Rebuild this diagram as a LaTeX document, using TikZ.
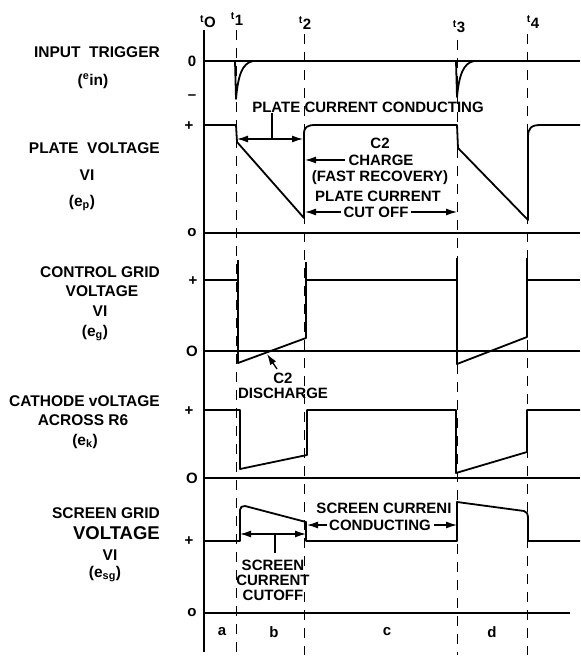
\documentclass[tikz,border=0pt]{standalone}
\usepackage{fontspec}
\setmainfont{Liberation Sans}
\usetikzlibrary{arrows.meta}
\begin{document}
\begin{tikzpicture}[x=1pt,y=-1pt,
  wave/.style={line width=1.8pt, line join=round},
  zline/.style={line width=1.3pt},
  axisline/.style={line width=1.2pt},
  tline/.style={line width=0.8pt, dash pattern=on 10pt off 8pt},
  lab/.style={font=\bfseries\fontsize{15.5}{17}\selectfont, inner sep=0pt},
  biglab/.style={font=\bfseries\fontsize{18.5}{20}\selectfont, inner sep=0pt},
  ann/.style={font=\bfseries\fontsize{15}{16}\selectfont, inner sep=0pt},
  lvl/.style={font=\bfseries\fontsize{15}{16}\selectfont, inner sep=0pt},
  tlab/.style={font=\bfseries\fontsize{15}{16}\selectfont, inner sep=0pt},
  tick/.style={line width=1.2pt},
  arr/.style={line width=1.3pt, -{Latex[length=11pt,width=7pt]}},
  darr/.style={line width=1.3pt, {Latex[length=11pt,width=7pt]}-{Latex[length=11pt,width=7pt]}},
]
\useasboundingbox (0,0) rectangle (580,660);
\fill[white] (0,0) rectangle (580,660);

% ---------- axis and time lines ----------
\coordinate (axtop) at (204,30);
\coordinate (axbot) at (204,652);
\draw[axisline] (axtop) -- (axbot);

\coordinate (t1top) at (236,30);  \coordinate (t1bot) at (236,655);
\coordinate (t2top) at (304,34);  \coordinate (t2bot) at (304,655);
\coordinate (t3top) at (457,40);  \coordinate (t3bot) at (457,655);
\coordinate (t4top) at (527,34);  \coordinate (t4bot) at (527,655);
\draw[tline] (t1top) -- (t1bot);
\draw[tline] (t2top) -- (t2bot);
\draw[tline] (t3top) -- (t3bot);
\draw[tline] (t4top) -- (t4bot);

\node[tlab] (lt0) at (208,22) {\textsuperscript{t}O};
\node[tlab] (lt1) at (237,19) {\textsuperscript{t}1};
\node[tlab] (lt2) at (305,23) {\textsuperscript{t}2};
\node[tlab] (lt3) at (459,27) {\textsuperscript{t}3};
\node[tlab] (lt4) at (533,22) {\textsuperscript{t}4};

% ---------- zero lines ----------
\coordinate (z1a) at (204,233); \coordinate (z1b) at (580,233);
\coordinate (z2a) at (204,351); \coordinate (z2b) at (580,351);
\coordinate (z3a) at (204,478); \coordinate (z3b) at (580,478);
\coordinate (z4a) at (204,613); \coordinate (z4b) at (570,613);
\draw[zline] (z1a) -- (z1b);
\draw[zline] (z2a) -- (z2b);
\draw[zline] (z3a) -- (z3b);
\draw[zline] (z4a) -- (z4b);

% ---------- waveforms ----------
% input trigger
\draw[wave] (204,61) -- (580,61);
\draw[wave] (235,61) -- (236,99) .. controls (238,76) and (242,63) .. (253,61);
\draw[wave] (456,61) -- (457,97) .. controls (459,76) and (463,63) .. (474,61);

% plate voltage
\draw[wave] (204,125) -- (236,125) -- (237,142) -- (304,218) -- (304,134)
  .. controls (304,127) and (307,125) .. (316,125) -- (457,125) -- (458,148)
  -- (528,220) -- (528,137) .. controls (528,128) and (531,125) .. (541,125) -- (580,125);

% control grid
\draw[wave] (204,280) -- (238,280);
\draw[wave] (238,260) -- (238,363) -- (306,338) -- (306,262);
\draw[wave] (306,280) -- (457,280);
\draw[wave] (457,258) -- (457,364) -- (527,337) -- (527,258);
\draw[wave] (527,280) -- (580,280);

% cathode
\draw[wave] (204,410) -- (240,410) -- (240,469) -- (307,455) -- (307,410)
  -- (456,410) -- (456,473) -- (527,452) -- (527,410) -- (580,410);

% screen grid
\draw[wave] (204,541) -- (240,541) -- (240,510) .. controls (240,507) and (242,506) .. (245,506)
  -- (306,522) -- (306,541) -- (457,541) -- (457,502) -- (524,511)
  .. controls (527,512) and (528,514) .. (528,517) -- (528,541) -- (580,541);

% ---------- level marks ----------
\node[lvl] (m1) at (192,61) {0};
\node[lvl] (m2) at (192,97) {--};
\node[lvl] (m3) at (189,126) {+};
\node[lvl] (m4) at (192,233) {o};
\node[lvl] (m5) at (193,281) {+};
\node[lvl] (m6) at (192,351) {O};
\node[lvl] (m7) at (189,411) {+};
\node[lvl] (m8) at (192,478) {O};
\node[lvl] (m9) at (189,541) {+};
\node[lvl] (m10) at (192,613) {o};

% ---------- left labels ----------
\node[lab, anchor=east] (in1) at (160,52) {INPUT\ \ TRIGGER};
\node[lab] (in2) at (93,81) {(\textsuperscript{e}in)};
\node[lab, anchor=east] (pv1) at (160,148) {PLATE\ \ VOLTAGE};
\node[lab] (pv2) at (87,175) {VI};
\node[lab] (pv3) at (82,203) {(e\textsubscript{p})};
\node[lab, anchor=east] (cg1) at (160,272) {CONTROL GRID};
\node[lab] (cg2) at (102,291) {VOLTAGE};
\node[lab] (cg3) at (100,311) {VI};
\node[lab] (cg4) at (95,333) {(e\textsubscript{g})};
\node[lab, anchor=east] (ck1) at (160,401) {CATHODE vOLTAGE};
\node[lab] (ck2) at (83,420) {ACROSS R6};
\node[lab] (ck3) at (85,441) {(e\textsubscript{k})};
\node[lab, anchor=east] (sg1) at (160,513) {SCREEN GRID};
\node[biglab, anchor=east] (sg2) at (160,533) {VOLTAGE};
\node[lab] (sg3) at (110,555) {VI};
\node[lab] (sg4) at (105,574) {(e\textsubscript{sg})};

% ---------- plate annotations ----------
\node[ann] (pcc) at (368,107) {PLATE CURRENT CONDUCTING};
\coordinate (pccA) at (237,139);
\coordinate (pccB) at (303,139);
\coordinate (pccT) at (272,113);
\coordinate (pccM) at (272,139);
\draw[darr] (pccA) -- (pccB);
\draw[tick] (pccT) -- (pccM);

\node[ann] (c2a) at (380,143) {C2};
\node[ann] (c2b) at (381,160) {CHARGE};
\node[ann] (c2c) at (380,178) {(FAST RECOVERY)};
\node[ann] (c2d) at (378,196) {PLATE CURRENT};
\node[ann] (c2e) at (376,212) {CUT OFF};
\coordinate (chg) at (305,160);
\coordinate (cutL) at (305,212);
\coordinate (cutR) at (457,212);
\draw[arr] (c2b.west) ++(-3,0) -- (chg);
\draw[arr] (c2e.west) ++(-2,0) -- (cutL);
\draw[arr] (c2e.east) ++(2,0) -- (cutR);

% ---------- grid annotation ----------
\node[ann] (dis1) at (283,378) {C2};
\node[ann] (dis2) at (283,393) {DISCHARGE};
\coordinate (disT) at (267,354);
\draw[arr] (277,369) -- (disT);

% ---------- screen annotations ----------
\coordinate (scA) at (240,534);
\coordinate (scB) at (306,534);
\coordinate (scM) at (275,534);
\coordinate (scT) at (275,553);
\draw[darr] (scA) -- (scB);
\draw[tick] (scM) -- (scT);
\node[ann] (sc1) at (273,565) {SCREEN};
\node[ann] (sc2) at (273,580) {CURRENT};
\node[ann] (sc3) at (273,595) {CUTOFF};

\node[ann] (scc1) at (384,508) {SCREEN CURRENI};
\node[ann] (scc2) at (380,525) {CONDUCTING};
\coordinate (sccL) at (307,525);
\coordinate (sccR) at (457,525);
\draw[arr] (scc2.west) ++(-2,0) -- (sccL);
\draw[arr] (scc2.east) ++(3,0) -- (sccR);

% ---------- intervals ----------
\node[ann] (ra) at (222,632) {a};
\node[ann] (rb) at (274,632) {b};
\node[ann] (rc) at (387,632) {c};
\node[ann] (rd) at (492,632) {d};
\end{tikzpicture}
\end{document}
